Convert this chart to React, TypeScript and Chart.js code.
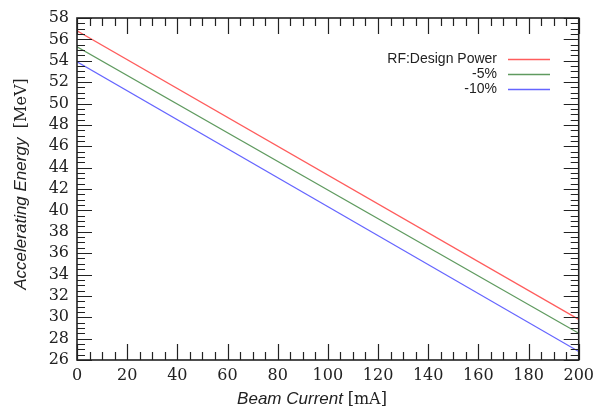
import React, { useEffect, useRef } from "react";
import { Chart, registerables } from "chart.js";

Chart.register(...registerables);

// ---- data ----
const beamCurrent = [0, 200];
const rfDesignPower = [56.8, 29.8];
const minus5 = [55.3, 28.5];
const minus10 = [53.9, 26.8];
const seriesLabels = ["RF:Design Power", "-5%", "-10%"];
const seriesColors = ["#ff5c5c", "#5f9a5f", "#6565ff"];

const SERIF = "'DejaVu Serif', serif";
const SANS = "'Liberation Sans', Arial, sans-serif";

const ticksPlugin = {
  id: "innerTicks",
  afterDraw(chart: any) {
    const { ctx, chartArea, scales } = chart;
    const { left, right, top, bottom } = chartArea;
    const xs = scales.x;
    const ys = scales.y;
    ctx.save();
    ctx.strokeStyle = "#222";
    ctx.lineWidth = 1.2;
    for (let v = 0; v <= 200; v += 5) {
      const px = Math.round(xs.getPixelForValue(v)) + 0.5;
      const len = v % 20 === 0 ? 16 : 8;
      ctx.beginPath();
      ctx.moveTo(px, bottom);
      ctx.lineTo(px, bottom - len);
      ctx.moveTo(px, top);
      ctx.lineTo(px, top + len);
      ctx.stroke();
    }
    for (let v = 26; v <= 58.001; v += 0.5) {
      const py = Math.round(ys.getPixelForValue(v)) + 0.5;
      const len = Math.abs(v % 2) < 1e-6 ? 15 : 8;
      ctx.beginPath();
      ctx.moveTo(left, py);
      ctx.lineTo(left + len, py);
      ctx.moveTo(right, py);
      ctx.lineTo(right - len, py);
      ctx.stroke();
    }
    ctx.lineWidth = 1.6;
    ctx.strokeRect(left, top, right - left, bottom - top);

    // legend
    ctx.font = `14px ${SANS}`;
    ctx.textAlign = "right";
    ctx.textBaseline = "middle";
    const ly = [59, 74, 89];
    seriesLabels.forEach((lab, i) => {
      ctx.fillStyle = "#222";
      ctx.fillText(lab, 497, ly[i]);
      ctx.strokeStyle = seriesColors[i];
      ctx.lineWidth = 1.5;
      ctx.beginPath();
      ctx.moveTo(508, ly[i] + 0.5);
      ctx.lineTo(550, ly[i] + 0.5);
      ctx.stroke();
    });

    // axis titles (mixed fonts)
    ctx.fillStyle = "#222";
    ctx.textAlign = "left";
    ctx.textBaseline = "alphabetic";
    const xA = "Beam Current ";
    const xB = "[mA]";
    ctx.font = `italic 17px ${SANS}`;
    const wA = ctx.measureText(xA).width;
    ctx.font = `16px ${SERIF}`;
    const wB = ctx.measureText(xB).width;
    const sx = 312 - (wA + wB) / 2;
    ctx.font = `italic 17px ${SANS}`;
    ctx.fillText(xA, sx, 404);
    ctx.font = `16px ${SERIF}`;
    ctx.fillText(xB, sx + wA, 404);

    const yA = "Accelerating Energy  ";
    const yB = "[MeV]";
    ctx.font = `italic 17px ${SANS}`;
    const hA = ctx.measureText(yA).width;
    ctx.font = `16px ${SERIF}`;
    const hB = ctx.measureText(yB).width;
    ctx.translate(26, 184);
    ctx.rotate(-Math.PI / 2);
    const sy = -(hA + hB) / 2;
    ctx.font = `italic 17px ${SANS}`;
    ctx.fillText(yA, sy, 0);
    ctx.font = `16px ${SERIF}`;
    ctx.fillText(yB, sy + hA, 0);
    ctx.restore();
  },
};

export default function App() {
  const ref = useRef<HTMLCanvasElement>(null);
  useEffect(() => {
    document.body.style.margin = "0";
    const mk = (ys: number[]) => beamCurrent.map((x, i) => ({ x, y: ys[i] }));
    const chart = new Chart(ref.current!, {
      type: "line",
      data: {
        datasets: [rfDesignPower, minus5, minus10].map((d, i) => ({
          label: seriesLabels[i],
          data: mk(d),
          borderColor: seriesColors[i],
          borderWidth: 1.2,
          pointRadius: 0,
          fill: false,
        })),
      },
      options: {
        animation: false,
        responsive: false,
        layout: { padding: { top: 18, right: 16, left: 0, bottom: 0 } },
        plugins: { legend: { display: false }, tooltip: { enabled: false } },
        scales: {
          x: {
            type: "linear",
            min: 0,
            max: 200,
            grid: { display: false, drawTicks: false },
            border: { display: false },
            ticks: {
              stepSize: 20,
              autoSkip: false,
              maxRotation: 0,
              padding: 6,
              color: "#222",
              font: { family: SERIF, size: 16 },
            },
            afterFit: (s: any) => {
              s.height = 50;
            },
          },
          y: {
            min: 26,
            max: 58,
            grid: { display: false, drawTicks: false },
            border: { display: false },
            ticks: {
              stepSize: 2,
              autoSkip: false,
              padding: 8,
              color: "#222",
              font: { family: SERIF, size: 16 },
            },
            afterFit: (s: any) => {
              s.width = 77;
            },
          },
        },
      },
      plugins: [ticksPlugin],
    } as any);
    return () => chart.destroy();
  }, []);
  return <canvas ref={ref} width={600} height={410} style={{ display: "block" }} />;
}
